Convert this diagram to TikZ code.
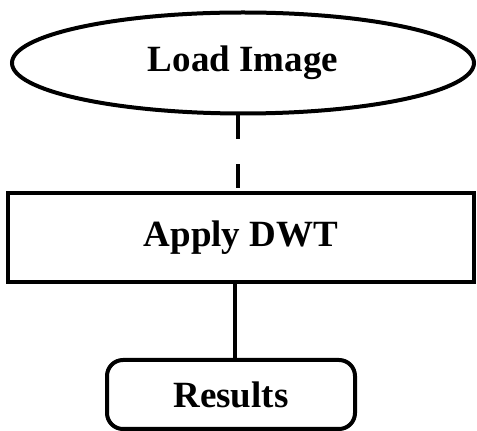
\documentclass[tikz,border=0pt]{standalone}
\usepackage{fontspec}
\setmainfont{Liberation Serif}
\usetikzlibrary{shapes.geometric}

\tikzset{
    box/.style={draw=black,line width=4pt,font=\fontsize{37}{40}\selectfont\bfseries,inner sep=0pt},
    startbox/.style={box,ellipse,minimum width=462pt,minimum height=101pt},
    procbox/.style={box,rectangle,minimum width=466pt,minimum height=89pt},
    endbox/.style={box,rectangle,rounded corners=16pt,minimum width=248pt,minimum height=69pt},
    link/.style={line width=4pt}
}

\begin{document}
\begin{tikzpicture}[x=1pt,y=1pt]

    \useasboundingbox (0,0) rectangle (477,431);

    \node[startbox] (load) at (243,368) {Load Image};
    \node[procbox] (dwt) at (241,193.5) {Apply DWT};
    \node[endbox] (res) at (231,36.5) {Results};

    % dashed link at the top, plain one below
    \draw[link,dash pattern=on 24pt off 25pt]
    ([xshift=-5pt]load.south) to ([xshift=-5pt]load.south |- dwt.north);
    \draw[link]
    ([xshift=4pt]res.north |- dwt.south) to ([xshift=4pt]res.north);

\end{tikzpicture}
\end{document}
